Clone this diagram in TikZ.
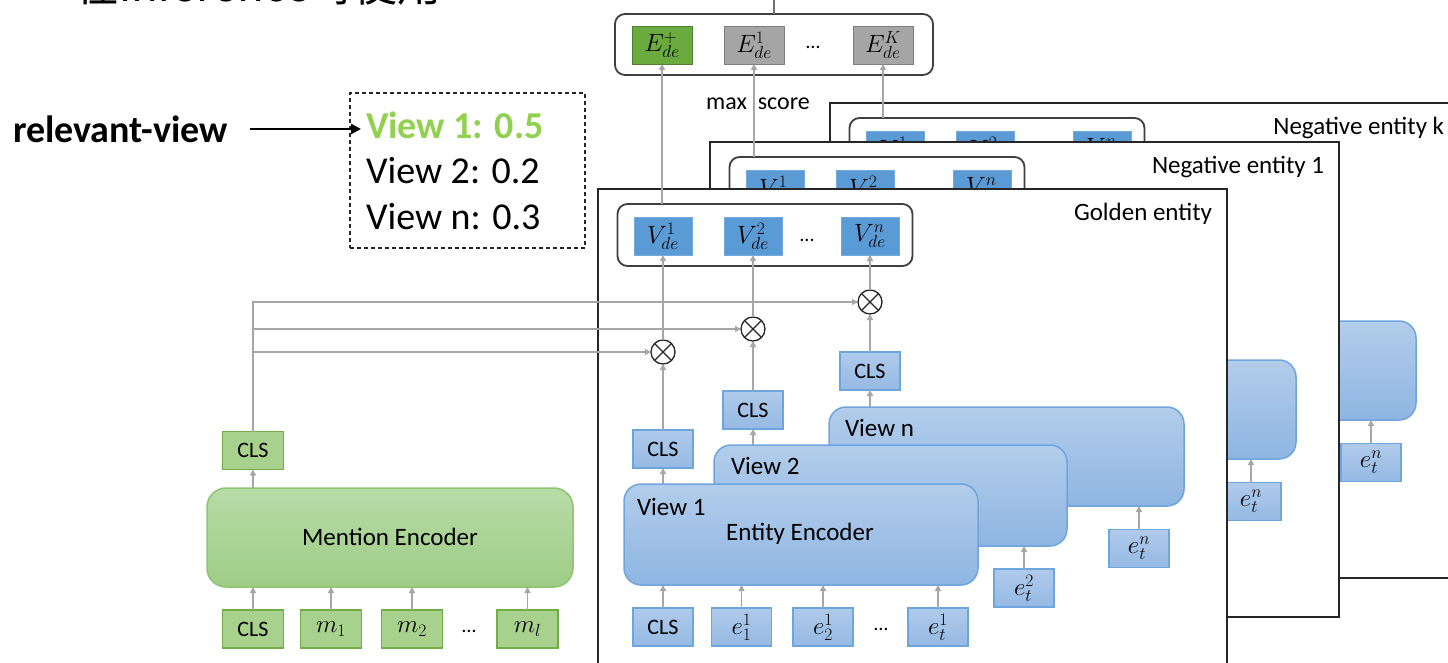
\RequirePackage{fix-cm}
\documentclass[tikz,border=0pt]{standalone}
\usepackage{fontspec}
\setmainfont{Carlito}
\newfontfamily\cjkfont{Noto Sans CJK TC}
\usetikzlibrary{arrows.meta,calc}

\definecolor{connGray}{HTML}{A6A6A6}
\definecolor{vBlue}{HTML}{5B9BD5}
\definecolor{encTop}{HTML}{B3CDEB}
\definecolor{encBot}{HTML}{8EB5E2}
\definecolor{encLine}{HTML}{6FA5DD}
\definecolor{tokTop}{HTML}{B0CAEA}
\definecolor{tokBot}{HTML}{95BAE4}
\definecolor{menTop}{HTML}{B8DBA8}
\definecolor{menBot}{HTML}{9ECD85}
\definecolor{menLine}{HTML}{8DC572}
\definecolor{mtokFill}{HTML}{A9D18E}
\definecolor{mtokLine}{HTML}{70AD47}
\definecolor{posGreen}{HTML}{6AAA3E}
\definecolor{posLine}{HTML}{507E32}
\definecolor{negGray}{HTML}{A5A5A5}
\definecolor{negLine}{HTML}{7F7F7F}
\definecolor{viewGreen}{HTML}{92D050}

\tikzset{
  every node/.style={inner sep=0pt, outer sep=0pt},
  wh/.style 2 args={minimum width=#1, minimum height=#2},
  paneframe/.style={rectangle, draw=black!85, line width=1.6pt, fill=white},
  vgroup/.style={rectangle, draw=black!75, line width=1.8pt, fill=white, rounded corners=10pt},
  mathsz/.style={font=\fontsize{25}{27}\selectfont},
  vcell/.style={rectangle, fill=vBlue, draw=vBlue!85!white, line width=0.8pt, wh={58}{38}, mathsz},
  poscell/.style={rectangle, fill=posGreen, draw=posLine, line width=0.8pt, wh={60}{38}, mathsz},
  negcell/.style={rectangle, fill=negGray, draw=negLine, line width=0.8pt, wh={60}{38}, mathsz},
  enc/.style={rectangle, draw=encLine, line width=1.5pt, top color=encTop, bottom color=encBot,
    rounded corners=17pt},
  etok/.style={rectangle, draw=encLine, line width=1.5pt, top color=tokTop, bottom color=tokBot,
    wh={60}{38}, font=\fontsize{22}{24}\selectfont},
  menc/.style={rectangle, draw=menLine, line width=1.5pt, top color=menTop, bottom color=menBot,
    rounded corners=19pt},
  mtok/.style={rectangle, draw=mtokLine, line width=1.3pt, fill=mtokFill,
    wh={61}{38}, font=\fontsize{22}{24}\selectfont},
  lbl/.style={font=\fontsize{25}{30}\selectfont},
  ellip/.style={font=\fontsize{20}{24}\selectfont, anchor=base},
  conn/.style={draw=connGray, line width=1.4pt, -{Triangle[length=6pt,width=6pt]}},
  mult/.style={circle, draw=black!85, line width=1.3pt, fill=white, minimum size=24pt,
    path picture={
      \draw[line width=1.3pt, black!85]
        ([shift={(-9pt,-9pt)}]path picture bounding box.center) --
        ([shift={(9pt,9pt)}]path picture bounding box.center)
        ([shift={(-9pt,9pt)}]path picture bounding box.center) --
        ([shift={(9pt,-9pt)}]path picture bounding box.center);
    }},
}

% Texts inside a panel that a panel in front of it covers are set only for the front one
\newif\ifpanelfront
\newcommand{\ptext}[1]{\ifpanelfront#1\fi}

% One entity panel: frame, view encoders, CLS outputs, fusion and view vectors
\newcommand{\entitypanel}[1]{%
  \node[paneframe, wh={629}{475}] (frame) at (912.5,426.5) {};
  \node[lbl, anchor=east] (title) at (1212,214) {#1};
  \node[vgroup, wh={295}{62}] (vg) at (765,235) {};
  \node[vcell] (v1) at (663,236) {$V^{1}_{de}$};
  \node[vcell] (v2) at (753,236) {$V^{2}_{de}$};
  \node[ellip] (vdots) at (807,241) {\ptext{…}};
  \node[vcell] (vn) at (870,236) {$V^{n}_{de}$};
  \node[mult] (o1) at (663,352) {};
  \node[mult] (o2) at (753,329) {};
  \node[mult] (on) at (870,302) {};
  \node[etok] (c1) at (663,449) {\ptext{CLS}};
  \node[etok] (c2) at (753,410) {\ptext{CLS}};
  \node[etok] (cn) at (870,371) {\ptext{CLS}};
  \node[enc, wh={355}{99}] (encn) at (1006.5,456.5) {};
  \node[lbl, anchor=west] (lvn) at (845,428) {\ptext{View n}};
  \node[enc, wh={353}{101}] (enc2) at (890.5,495.5) {};
  \node[lbl, anchor=west] (lv2) at (731,466) {\ptext{View 2}};
  \node[enc, wh={354}{101}] (enc1) at (801,534.5) {};
  \node[lbl, anchor=west] (lv1) at (637,507) {\ptext{View 1}};
  \node[lbl] (lee) at (800,534) {\ptext{Entity Encoder}};
  \node[etok] (tcls) at (663,627) {\ptext{CLS}};
  \node[etok, mathsz] (te11) at (741.5,627) {\ptext{$e^{1}_{1}$}};
  \node[etok, mathsz] (te21) at (823,627) {\ptext{$e^{1}_{2}$}};
  \node[ellip] (tdots) at (881,630) {\ptext{…}};
  \node[etok, mathsz] (tet1) at (938,627) {\ptext{$e^{1}_{t}$}};
  \node[etok, mathsz] (tet2) at (1024,588) {\ptext{$e^{2}_{t}$}};
  \node[etok, mathsz] (tetn) at (1139,548.5) {$e^{n}_{t}$};
  \foreach \t in {tcls,te11,te21,tet1}{\draw[conn] (\t.north) -- (\t.north |- enc1.south);}
  \draw[conn] (tet2.north) -- (tet2.north |- enc2.south);
  \draw[conn] (tetn.north) -- (tetn.north |- encn.south);
  \draw[conn] (enc1.north -| c1.south) -- (c1.south);
  \draw[conn] (enc2.north -| c2.south) -- (c2.south);
  \draw[conn] (encn.north -| cn.south) -- (cn.south);
  \draw[conn] (c1.north) -- (o1.south);
  \draw[conn] (c2.north) -- (o2.south);
  \draw[conn] (cn.north) -- (on.south);
  \draw[conn] (o1.north) -- (v1.south);
  \draw[conn] (o2.north) -- (v2.south);
  \draw[conn] (on.north) -- (vn.south);
}

\begin{document}
\begin{tikzpicture}[x=1pt, y=-1pt]
  \useasboundingbox (0,0) rectangle (1448,663);
  \fill[white] (0,0) rectangle (1448,663);
  \begin{scope}
    \clip (0,0) rectangle (1448,663);

    % heading line, cut by the top edge
    \node[font=\cjkfont\fontsize{44}{48}\selectfont, anchor=base west] (note) at (75,2) {在inference時使用};

    % stacked candidate panels, back to front
    \panelfrontfalse
    \begin{scope}[shift={(232,-86)}, name prefix=k-]
      \entitypanel{Negative entity k}
    \end{scope}
    \begin{scope}[shift={(112,-47)}, name prefix=n1-]
      \entitypanel{Negative entity 1}
    \end{scope}
    \panelfronttrue
    \begin{scope}[name prefix=g-]
      \entitypanel{Golden entity}
    \end{scope}

    % mention side
    \node[menc, wh={366}{99}] (menc) at (390,537.5) {};
    \node[lbl] (lme) at (390,537) {Mention Encoder};
    \node[mtok] (mcls) at (253,450.5) {CLS};
    \node[mtok] (mc0) at (253,629) {CLS};
    \node[mtok, mathsz] (m1) at (331,629) {$m_{1}$};
    \node[mtok, mathsz] (m2) at (412,629) {$m_{2}$};
    \node[ellip] (mdots) at (469,632) {…};
    \node[mtok, mathsz] (ml) at (527.5,629) {$m_{l}$};
    \foreach \t in {mc0,m1,m2,ml}{\draw[conn] (\t.north) -- (\t.north |- menc.south);}
    \draw[conn] (menc.north -| mcls.south) -- (mcls.south);
    \draw[conn] (mcls.north) |- (g-on.west);
    \draw[conn] (mcls.north |- g-o2.west) -- (g-o2.west);
    \draw[conn] (mcls.north |- g-o1.west) -- (g-o1.west);

    % scores over golden and negative entities
    \node[vgroup, wh={318}{61}] (eg) at (774,44.5) {};
    \node[poscell] (epos) at (662,45) {$E^{+}_{de}$};
    \node[negcell] (e1) at (754,45) {$E^{1}_{de}$};
    \node[ellip] (edots) at (813,49) {…};
    \node[negcell] (ek) at (883,45) {$E^{K}_{de}$};
    \coordinate (eup) at (774,-10);
    \draw[line width=1.4pt, draw=black!55] (eg.north) -- (eup);
    \node[font=\fontsize{24}{28}\selectfont] (maxs) at (758,104) {max\ \ score};
    \draw[conn] (g-vg.north -| epos.south) -- (epos.south);
    \draw[conn] (n1-vg.north -| e1.south) -- (e1.south);
    \draw[conn] (k-vg.north -| ek.south) -- (ek.south);

    % view relevance scores
    \node[rectangle, draw=black!85, line width=1.2pt, dash pattern=on 4pt off 3pt, wh={235}{155}]
      (scores) at (467.5,170.5) {};
    \node[font=\bfseries\fontsize{38}{42}\selectfont, text=viewGreen, anchor=west] (s1) at (366,125) {View 1: 0.5};
    \node[font=\fontsize{38}{42}\selectfont, anchor=west] (s2) at (366,171) {View 2: 0.2};
    \node[font=\fontsize{38}{42}\selectfont, anchor=west] (sn) at (366,217) {View n: 0.3};
    \node[font=\bfseries\fontsize{38}{42}\selectfont, anchor=west] (rv) at (13,129) {relevant-view};
    \coordinate (rvtip) at (361,129);
    \draw[line width=2.2pt, -{Triangle[length=10pt,width=10pt]}] ([xshift=22pt]rv.east) -- (rvtip);
  \end{scope}
\end{tikzpicture}
\end{document}
